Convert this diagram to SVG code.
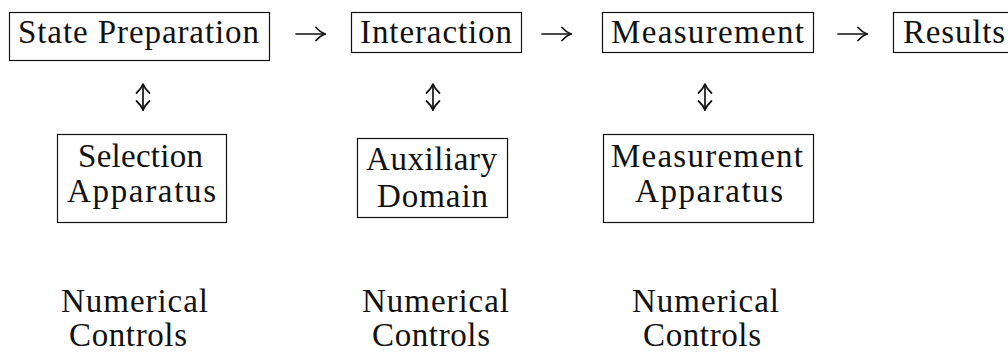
<svg xmlns="http://www.w3.org/2000/svg" width="1008" height="354" viewBox="0 0 1008 354">
  <style>
    .box { fill: #fff; stroke: #111; stroke-width: 1.2; }
    .t { font-family: "Liberation Serif", "Times New Roman", serif; font-size: 33px; fill: #111; }
    .conn { fill: none; stroke: #111; stroke-width: 1.7; stroke-linecap: round; }
  </style>
  <defs>
    <marker id="head" markerUnits="userSpaceOnUse" viewBox="0 0 11 16" refX="10.5" refY="8" markerWidth="11" markerHeight="16" orient="auto-start-reverse">
      <path d="M1.5,1.5 Q6,6.5 10.5,8 Q6,9.5 1.5,14.5" fill="none" stroke="#111" stroke-width="1.7" stroke-linecap="round"/>
    </marker>
  </defs>
  <rect width="1008" height="354" fill="#fff"/>

  <g id="connectors">
    <path class="conn" d="M296,34 H325" marker-end="url(#head)"/>
    <path class="conn" d="M542,34 H571" marker-end="url(#head)"/>
    <path class="conn" d="M838,34 H867" marker-end="url(#head)"/>
    <path class="conn" d="M143,84 V110" marker-start="url(#head)" marker-end="url(#head)"/>
    <path class="conn" d="M433,84 V110" marker-start="url(#head)" marker-end="url(#head)"/>
    <path class="conn" d="M705,84 V110" marker-start="url(#head)" marker-end="url(#head)"/>
  </g>

  <g id="state-preparation">
    <rect class="box" x="9.5" y="12.5" width="260" height="48"/>
    <text class="t" x="18" y="43" textLength="241">State Preparation</text>
  </g>
  <g id="interaction">
    <rect class="box" x="351.5" y="12.5" width="170" height="40"/>
    <text class="t" x="360" y="43" textLength="152">Interaction</text>
  </g>
  <g id="measurement">
    <rect class="box" x="602.5" y="12.5" width="211" height="40"/>
    <text class="t" x="611" y="43" textLength="193">Measurement</text>
  </g>
  <g id="results">
    <rect class="box" x="893.5" y="12.5" width="122" height="40"/>
    <text class="t" x="903" y="43" textLength="102">Results</text>
  </g>

  <g id="selection-apparatus">
    <rect class="box" x="57.5" y="134.5" width="169" height="88"/>
    <text class="t" x="78" y="167" textLength="125">Selection</text>
    <text class="t" x="67" y="202" textLength="149">Apparatus</text>
  </g>
  <g id="auxiliary-domain">
    <rect class="box" x="357.5" y="138.5" width="150" height="79"/>
    <text class="t" x="366" y="170" textLength="131">Auxiliary</text>
    <text class="t" x="377" y="207" textLength="111">Domain</text>
  </g>
  <g id="measurement-apparatus">
    <rect class="box" x="603.5" y="134.5" width="210" height="88"/>
    <text class="t" x="611" y="167" textLength="192">Measurement</text>
    <text class="t" x="635" y="202" textLength="148">Apparatus</text>
  </g>

  <g id="numerical-controls-1">
    <text class="t" x="61" y="312" textLength="147">Numerical</text>
    <text class="t" x="69" y="346" textLength="118">Controls</text>
  </g>
  <g id="numerical-controls-2">
    <text class="t" x="362" y="312" textLength="147">Numerical</text>
    <text class="t" x="372" y="346" textLength="118">Controls</text>
  </g>
  <g id="numerical-controls-3">
    <text class="t" x="632" y="312" textLength="147">Numerical</text>
    <text class="t" x="643" y="346" textLength="118">Controls</text>
  </g>
</svg>
